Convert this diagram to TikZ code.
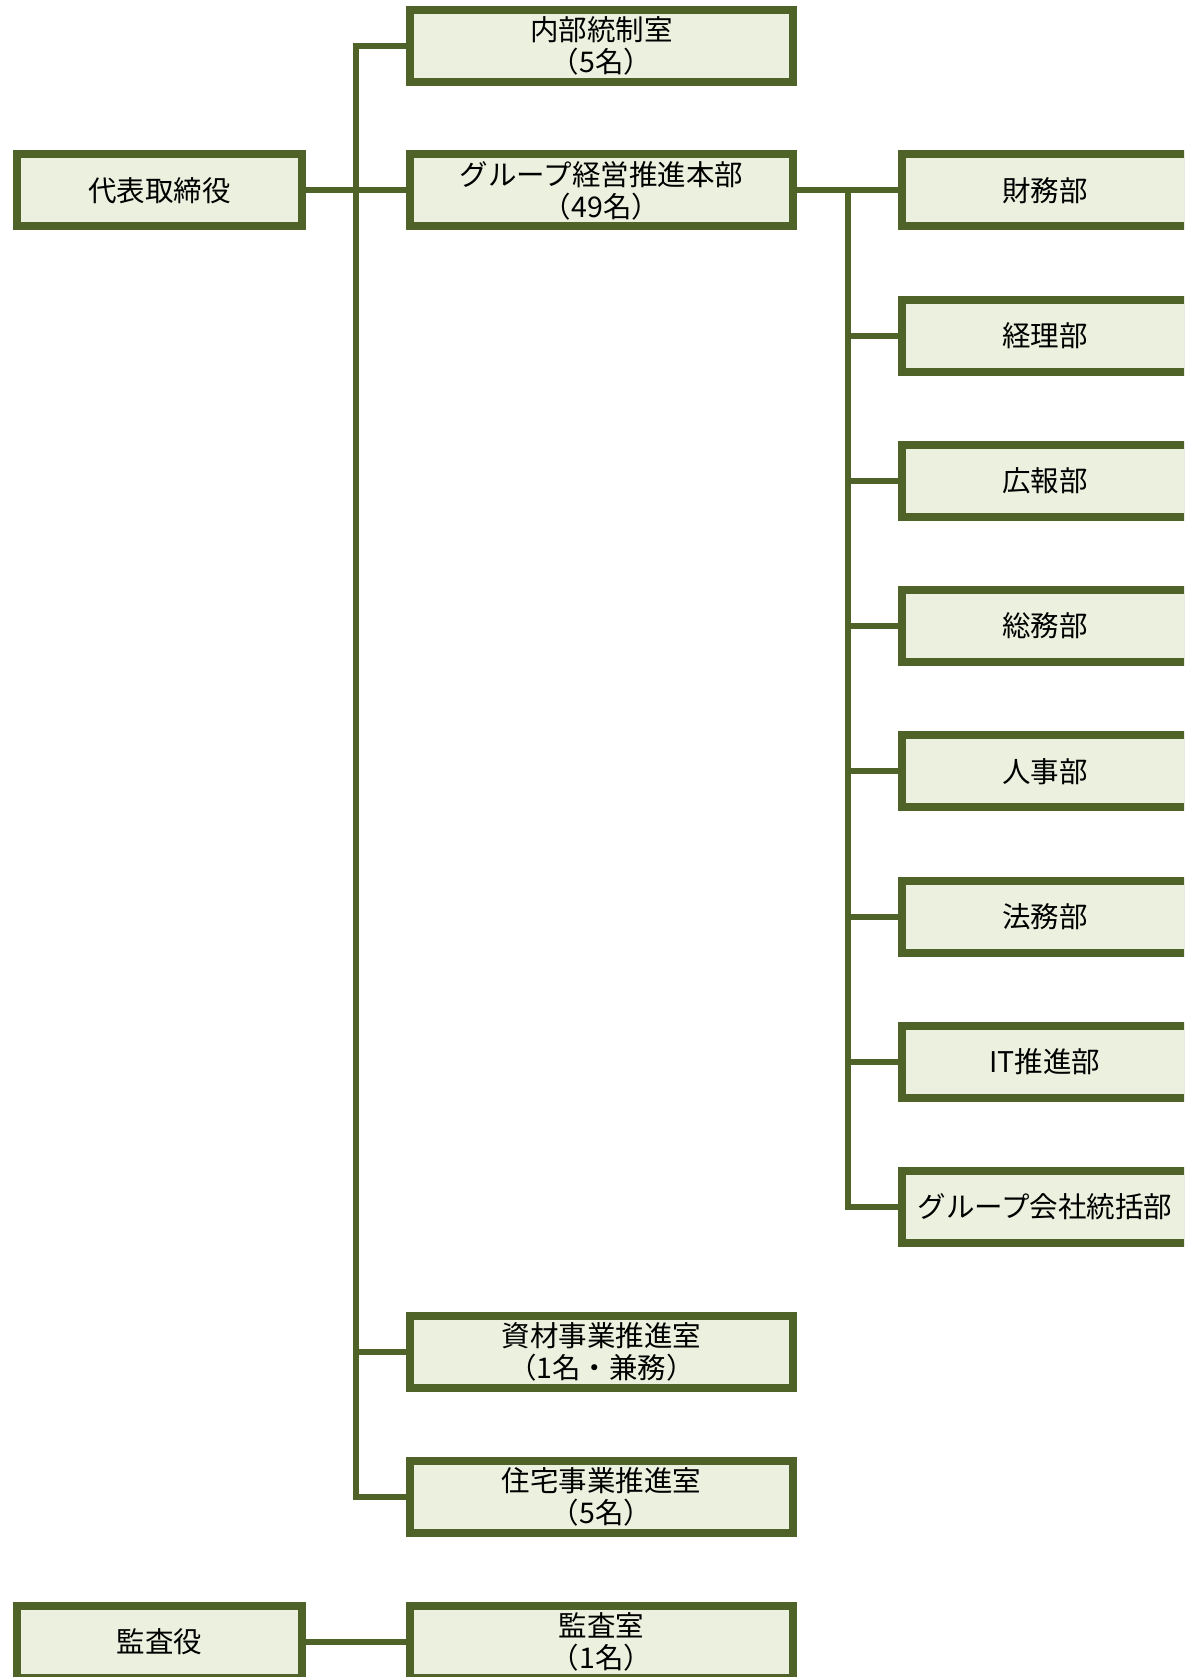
\documentclass[tikz,border=0pt]{standalone}
\usepackage{fontspec}
\setmainfont{Noto Sans CJK JP}
\definecolor{olive}{HTML}{4F6228}
\definecolor{leaf}{HTML}{EBF1DE}
\tikzset{
  unit/.style={draw=olive,fill=leaf,line width=8pt,minimum height=72pt,
    inner sep=0pt,align=center,font=\fontsize{28.5}{32}\selectfont},
  chief/.style={unit,minimum width=285pt},
  office/.style={unit,minimum width=383pt},
  dept/.style={unit,minimum width=286pt},
  link/.style={draw=olive,line width=6pt}
}

\begin{document}
\begin{tikzpicture}[x=1pt,y=-1pt]
  \useasboundingbox (0,0) rectangle (1184,1677);
  \clip (0,0) rectangle (1184,1677);
  \node[chief] (ceo) at (159.5,190.5) {代表取締役};
  \node[chief] (audit) at (159.5,1642) {監査役};
  \node[office] (ctrl) at (601.5,46) {内部統制室\\（5名）};
  \node[office] (hq) at (601.5,190.5) {グループ経営推進本部\\（49名）};
  \node[office] (mat) at (601.5,1352) {資材事業推進室\\（1名・兼務）};
  \node[office] (house) at (601.5,1497) {住宅事業推進室\\（5名）};
  \node[office] (auditroom) at (601.5,1642) {監査室\\（1名）};
  \foreach \name [count=\k] in {財務部,経理部,広報部,総務部,人事部,法務部,IT推進部,グループ会社統括部}
    \node[dept] (d\k) at (1045,{190.5+145.2*(\k-1)}) {\name};

  \coordinate (tk) at (356,0);
  \coordinate (rt) at (848,0);
  \draw[link] (ctrl.west) -- (tk |- ctrl.west) -- (tk |- house.west) -- (house.west);
  \draw[link] (ceo.east) -- (hq.west);
  \draw[link] (mat.west) -- (tk |- mat.west);
  \draw[link] (audit.east) -- (auditroom.west);
  \draw[link] (hq.east) -- (d1.west);
  \draw[link] (rt |- hq.east) -- (rt |- d8.west) -- (d8.west);
  \foreach \k in {2,...,7}
    \draw[link] (rt |- d\k.west) -- (d\k.west);
\end{tikzpicture}
\end{document}
